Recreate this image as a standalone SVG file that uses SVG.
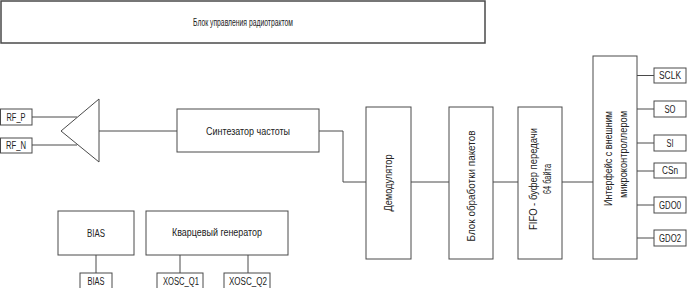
<svg xmlns="http://www.w3.org/2000/svg" width="687" height="288" viewBox="0 0 687 288">
<style>
rect{fill:#fff;stroke:#4a4a4a;stroke-width:1}
.c line,.c polyline{stroke:#4a4a4a;stroke-width:1;fill:none}
text{font-family:"Liberation Sans",Arial,sans-serif;font-size:10px;fill:#222;text-anchor:middle;dominant-baseline:central}
</style>
<rect width="687" height="288" style="stroke:none"/>
<g class="c">
<line x1="32" y1="117" x2="77" y2="117"/>
<line x1="32" y1="145" x2="77" y2="145"/>
<line x1="99" y1="131" x2="177" y2="131"/>
<polyline points="319,131 343,131 343,182 366,182"/>
<line x1="411" y1="182" x2="449" y2="182"/>
<line x1="493" y1="182" x2="518" y2="182"/>
<line x1="562" y1="182" x2="593" y2="182"/>
<line x1="637" y1="75.5" x2="654" y2="75.5"/>
<line x1="637" y1="109" x2="654" y2="109"/>
<line x1="637" y1="143" x2="654" y2="143"/>
<line x1="637" y1="171" x2="654" y2="171"/>
<line x1="637" y1="205" x2="654" y2="205"/>
<line x1="637" y1="238" x2="654" y2="238"/>
<line x1="96" y1="255" x2="96" y2="273"/>
<line x1="180" y1="255" x2="180" y2="273"/>
<line x1="248" y1="255" x2="248" y2="273"/>
</g>
<g id="ctrl"><rect x="1" y="1" width="484" height="42" style="stroke-width:1.5"/><text x="243" y="22" textLength="100" lengthAdjust="spacingAndGlyphs">Блок управления радиотрактом</text></g>
<g id="rfp"><rect x="0.5" y="109" width="31.5" height="16"/><text x="16" y="117" textLength="19" lengthAdjust="spacingAndGlyphs">RF_P</text></g>
<g id="rfn"><rect x="0.5" y="138" width="31.5" height="15"/><text x="16" y="145.5" textLength="20" lengthAdjust="spacingAndGlyphs">RF_N</text></g>
<g id="lna"><polygon points="99,99 99,162 61,131" style="fill:#fff;stroke:#4a4a4a;stroke-width:1"/></g>
<g id="synth"><rect x="177" y="109" width="142" height="43"/><text x="248" y="131" textLength="84" lengthAdjust="spacingAndGlyphs">Синтезатор частоты</text></g>
<g id="demod"><rect x="366" y="107" width="45" height="152"/><text transform="translate(388,183) rotate(-90)" textLength="57" lengthAdjust="spacingAndGlyphs">Демодулятор</text></g>
<g id="packet"><rect x="449" y="107" width="44" height="152"/><text transform="translate(471,186) rotate(-90)" textLength="111" lengthAdjust="spacingAndGlyphs">Блок обработки пакетов</text></g>
<g id="fifo"><rect x="518" y="107" width="44" height="152"/><text transform="translate(533,179) rotate(-90)" textLength="102" lengthAdjust="spacingAndGlyphs">FIFO - буфер передачи</text><text transform="translate(547,179) rotate(-90)" textLength="30" lengthAdjust="spacingAndGlyphs">64 байта</text></g>
<g id="iface"><rect x="593" y="56" width="44" height="203"/><text transform="translate(608,158.5) rotate(-90)" textLength="95" lengthAdjust="spacingAndGlyphs">Интерфейс с внешним</text><text transform="translate(623,154.5) rotate(-90)" textLength="87" lengthAdjust="spacingAndGlyphs">микроконтроллером</text></g>
<g id="sclk"><rect x="654" y="68" width="32" height="15"/><text x="670" y="75.5" textLength="22" lengthAdjust="spacingAndGlyphs">SCLK</text></g>
<g id="so"><rect x="654" y="101" width="32" height="16"/><text x="670" y="109" textLength="11" lengthAdjust="spacingAndGlyphs">SO</text></g>
<g id="si"><rect x="654" y="135" width="32" height="16"/><text x="670" y="143" textLength="7" lengthAdjust="spacingAndGlyphs">SI</text></g>
<g id="csn"><rect x="654" y="163" width="32" height="15"/><text x="670" y="170.5" textLength="16" lengthAdjust="spacingAndGlyphs">CSn</text></g>
<g id="gdo0"><rect x="654" y="197" width="32" height="16"/><text x="670" y="205" textLength="22" lengthAdjust="spacingAndGlyphs">GDO0</text></g>
<g id="gdo2"><rect x="654" y="230" width="32" height="16"/><text x="670" y="238" textLength="22" lengthAdjust="spacingAndGlyphs">GDO2</text></g>
<g id="bias"><rect x="58" y="211" width="76" height="44"/><text x="96" y="233" textLength="18" lengthAdjust="spacingAndGlyphs">BIAS</text></g>
<g id="xosc"><rect x="146" y="211" width="142" height="44"/><text x="217" y="232" textLength="90" lengthAdjust="spacingAndGlyphs">Кварцевый генератор</text></g>
<g id="biaspin"><rect x="80" y="273" width="32" height="15.5"/><text x="96" y="281" textLength="17" lengthAdjust="spacingAndGlyphs">BIAS</text></g>
<g id="q1"><rect x="157" y="273" width="46" height="15.5"/><text x="181" y="281" textLength="36" lengthAdjust="spacingAndGlyphs">XOSC_Q1</text></g>
<g id="q2"><rect x="224" y="273" width="46" height="15.5"/><text x="248" y="281" textLength="38" lengthAdjust="spacingAndGlyphs">XOSC_Q2</text></g>
</svg>
